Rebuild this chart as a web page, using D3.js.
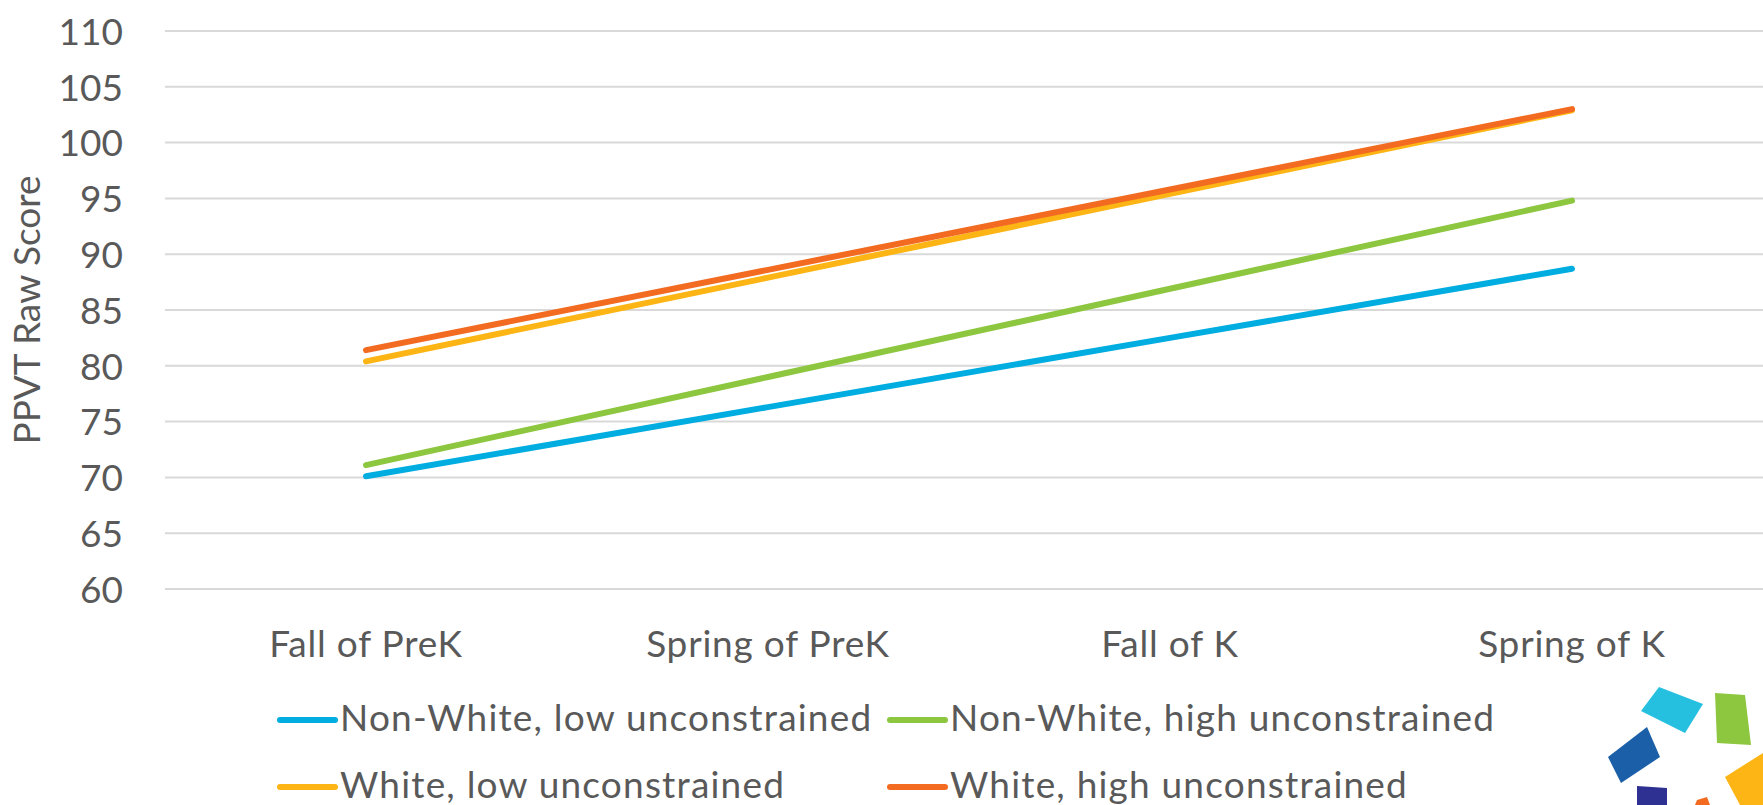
<!DOCTYPE html>
<html lang="en">
<head>
    <meta charset="utf-8" />
    <title>PPVT Raw Score</title>
    <script src="https://d3js.org/d3.v7.min.js"></script>
    <style>
        body { margin: 0; background: #fff; }
        text { font-family: Lato, "Open Sans", sans-serif; fill: #595959; }
        .grid line { stroke: #d9d9d9; stroke-width: 2px; }
    </style>
</head>
<body>
<svg width="1763" height="805"></svg>
<script>
    // chart data
    var categories = ["Fall of PreK", "Spring of PreK", "Fall of K", "Spring of K"];
    var seriesNames = ["Non-White, low unconstrained", "Non-White, high unconstrained",
                       "White, low unconstrained", "White, high unconstrained"];
    var nonWhiteLow  = [70.1, 76.3, 82.5, 88.7];
    var nonWhiteHigh = [71.1, 79.0, 86.9, 94.8];
    var whiteLow     = [80.4, 87.9, 95.4, 102.9];
    var whiteHigh    = [81.4, 88.6, 95.8, 103.0];
    var yTicks = [60, 65, 70, 75, 80, 85, 90, 95, 100, 105, 110];
    var colors = ["#00ade0", "#8dc63f", "#fdb515", "#f26b21"];

    var series = [nonWhiteLow, nonWhiteHigh, whiteLow, whiteHigh];

    var svg = d3.select("svg");

    var x = d3.scaleBand().domain(categories).range([165, 1773]).padding(0);
    var y = d3.scaleLinear().domain([60, 110]).range([589, 31]);

    // gridlines
    svg.append("g")
        .attr("class", "grid")
        .selectAll("line")
        .data(yTicks)
        .enter().append("line")
            .attr("x1", 165)
            .attr("x2", 1773)
            .attr("y1", function (d) { return y(d); })
            .attr("y2", function (d) { return y(d); });

    // y axis labels
    var yAxis = svg.append("g")
        .attr("transform", "translate(123,0)")
        .call(d3.axisLeft(y).tickValues(yTicks).tickSize(0).tickPadding(0));
    yAxis.select(".domain").remove();
    yAxis.selectAll("text")
        .attr("font-size", 37)
        .attr("dy", "0.36em")
        .style("font-family", "Lato, sans-serif")
        .attr("fill", "#595959");

    // x axis labels
    var xAxis = svg.append("g")
        .attr("transform", "translate(0,657)")
        .call(d3.axisBottom(x).tickSize(0).tickPadding(0));
    xAxis.select(".domain").remove();
    xAxis.selectAll("text")
        .attr("font-size", 37)
        .attr("dy", 0)
        .attr("y", 0)
        .attr("letter-spacing", 0.8)
        .style("font-family", "Lato, sans-serif")
        .attr("fill", "#595959");

    // y axis title
    svg.append("text")
        .attr("transform", "translate(40,310) rotate(-90)")
        .attr("text-anchor", "middle")
        .attr("font-size", 37)
        .text("PPVT Raw Score");

    // lines
    var line = d3.line()
        .x(function (d, i) { return x(categories[i]) + x.bandwidth() / 2; })
        .y(function (d) { return y(d); });

    svg.append("g")
        .selectAll("path")
        .data(series)
        .enter().append("path")
            .attr("d", line)
            .attr("fill", "none")
            .attr("stroke", function (d, i) { return colors[i]; })
            .attr("stroke-width", 6)
            .attr("stroke-linecap", "round")
            .attr("stroke-linejoin", "round");

    // legend, 2 columns x 2 rows
    var legend = svg.append("g")
        .selectAll("g")
        .data(seriesNames)
        .enter().append("g")
            .attr("transform", function (d, i) {
                return "translate(" + (i % 2 === 0 ? 280 : 890) + "," + (i < 2 ? 720 : 787) + ")";
            });

    legend.append("line")
        .attr("x1", 0).attr("x2", 55)
        .attr("stroke", function (d, i) { return colors[i]; })
        .attr("stroke-width", 6)
        .attr("stroke-linecap", "round");

    legend.append("text")
        .attr("x", 60)
        .attr("y", 11)
        .attr("font-size", 37)
        .attr("letter-spacing", 1.2)
        .text(function (d) { return d; });

    // logo fragment in the corner
    var logo = [
        { c: "#25c0df", p: [[1659,687],[1703,704],[1685,733],[1641,711]] },
        { c: "#8dc63f", p: [[1715,693],[1745,695],[1751,745],[1717,743]] },
        { c: "#1a5fa8", p: [[1647,727],[1660,757],[1621,783],[1608,757]] },
        { c: "#2e3191", p: [[1637,786],[1667,788],[1667,805],[1637,805]] },
        { c: "#fdb515", p: [[1725,777],[1763,753],[1763,805],[1740,805]] },
        { c: "#f26b21", p: [[1697,800],[1707,797],[1710,805],[1695,805]] }
    ];
    svg.append("g")
        .selectAll("polygon")
        .data(logo)
        .enter().append("polygon")
            .attr("points", function (d) { return d.p.join(" "); })
            .attr("fill", function (d) { return d.c; });
</script>
</body>
</html>
